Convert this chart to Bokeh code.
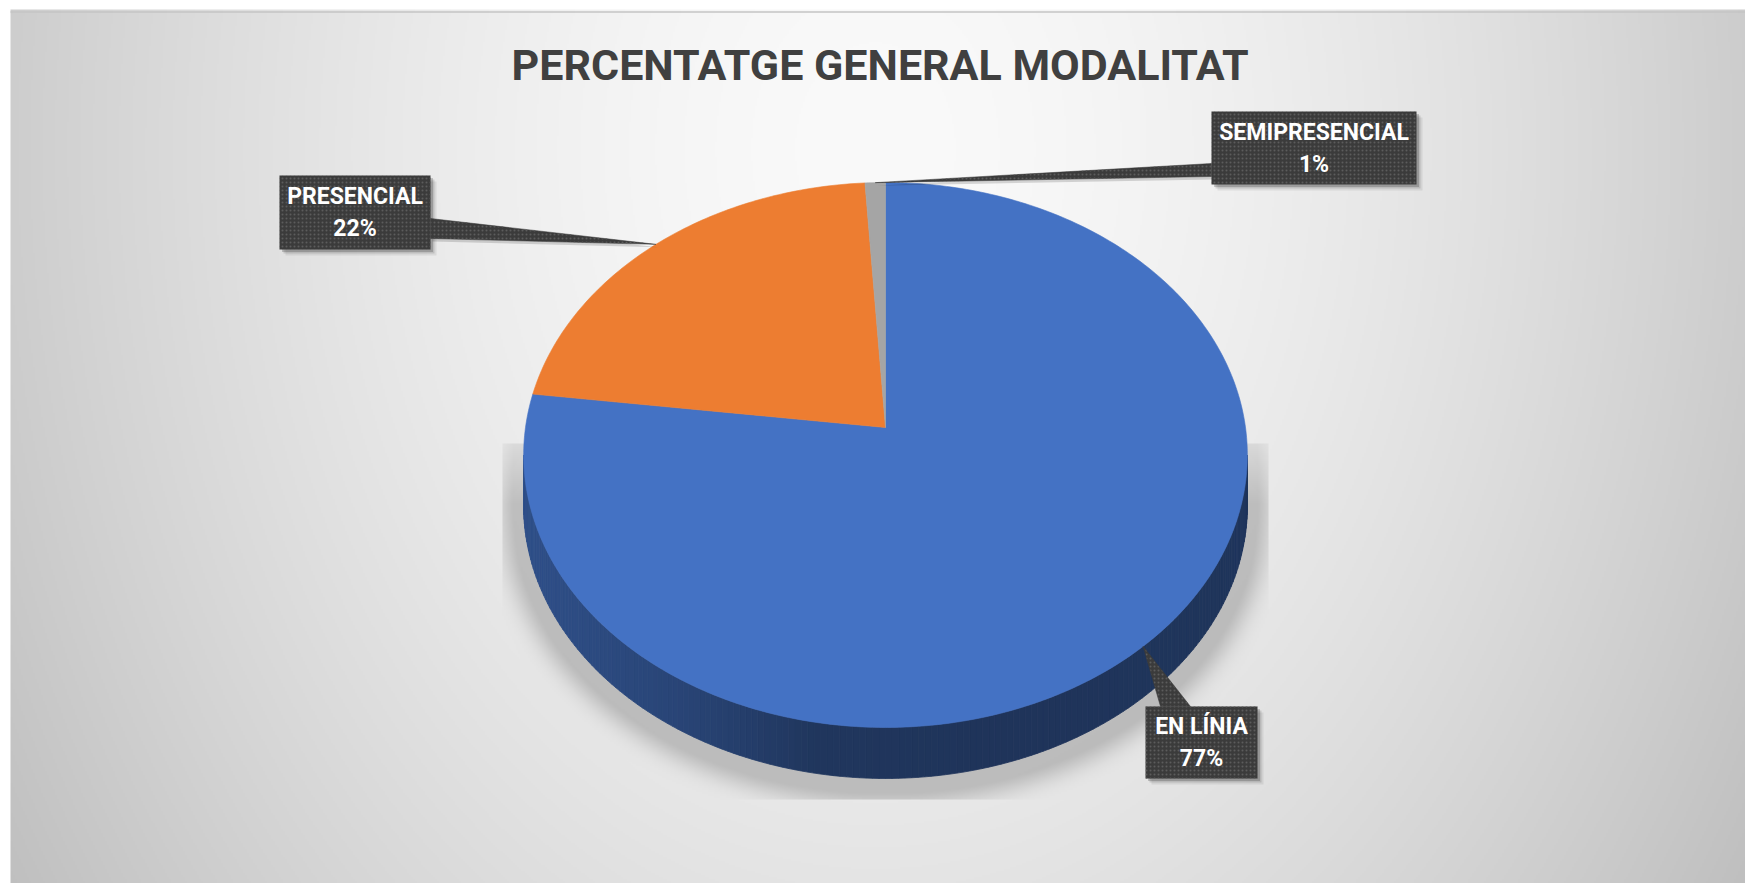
import numpy as np
from bokeh.plotting import figure
from bokeh.models import Range1d
from bokeh.embed import file_html
from bokeh.resources import INLINE
from bokeh.core.properties import value

# ---------------------------------------------------------------- data
categories = ["EN LÍNIA", "PRESENCIAL", "SEMIPRESENCIAL"]
percentages = [77, 22, 1]
slice_colors = ["#4472c4", "#ed7d31", "#a5a5a5"]
title_text = "PERCENTATGE GENERAL  MODALITAT"

# ---------------------------------------------------------------- layout (pixels, y downward)
W, H = 1745, 883
CX, CY = 885.0, 427.0      # point where the slices meet
RX, RZ = 360.0, 269.7      # radius of the disc, horizontal / depth
K = 0.1009                 # perspective strength
DEPTH = 51.0               # thickness of the disc

# label boxes: x0, x1, y0, y1 and the base of the callout pointer
box_x0 = [1145, 279, 1211]
box_x1 = [1257, 430, 1416]
box_y0 = [706, 175, 111]
box_y1 = [778, 249, 184]
ptr_base = [((1160, 706), (1190, 706)),
            ((430, 218), (430, 238)),
            ((1211, 163), (1211, 176))]

FONT = "Roboto"


def project(alpha, dy=0.0):
    """Angle clockwise from 12 o'clock -> screen pixel of the disc rim."""
    X = np.sin(alpha)
    Z = -np.cos(alpha)
    w = 1.0 - K * Z
    return CX + RX * X / w, CY + RZ * Z / w + dy


def Y(y):
    return H - np.asarray(y, dtype=float)


def shade(hex_color, f):
    h = hex_color.lstrip("#")
    r, g, b = (int(h[i:i + 2], 16) for i in (0, 2, 4))
    return "#%02x%02x%02x" % (int(r * f), int(g * f), int(b * f))


# ---------------------------------------------------------------- background image
S = 2
gw, gh = W // S + 1, H // S + 1
xs = (np.arange(gw) + 0.5) * S
ys = (np.arange(gh) + 0.5) * S
XX, YY = np.meshgrid(xs, ys)

u = (XX - 875.0) / 870.0
v = (YY - 150.0) / 733.0
grey = 250.0 - 45.0 * np.power(u ** 2 + 0.4 * v ** 2, 0.8)


def inside_disc(x, y, dy=0.0, grow=1.0):
    yy = y - CY - dy
    Z = yy / (RZ + K * yy)
    X = (x - CX) * (1.0 - K * Z) / RX
    return (X ** 2 + Z ** 2) <= grow ** 2


foot = np.zeros_like(grey, dtype=bool)
for dy in np.linspace(0, DEPTH + 8, 8):
    foot |= inside_disc(XX, YY, dy=dy, grow=1.05)
foot = foot.astype(float)


def blur1d(a, r, axis):
    a = np.moveaxis(a, axis, -1)
    p = np.pad(a, ((0, 0), (r + 1, r)), mode="edge")
    c = np.cumsum(p, axis=-1)
    out = (c[:, 2 * r + 1:] - c[:, :-2 * r - 1]) / (2 * r + 1)
    return np.moveaxis(out, -1, axis)


sh = foot
for _ in range(3):
    sh = blur1d(sh, 5, 0)
    sh = blur1d(sh, 5, 1)
clip = (XX >= 503) & (XX <= 1268) & (YY >= 445) & (YY <= 800)
# fade the shadow in towards its upper edge
fade = np.clip((YY - 445.0) / 60.0, 0, 1) * 0.6 + 0.4
grey = grey - 44.0 * np.clip(sh * 1.3, 0, 1) * clip * fade

panel = (XX >= 10) & (YY >= 11)
grey = np.where(panel, grey, 255.0)
grey = np.clip(grey, 0, 255).astype(np.uint8)

img = np.empty((gh, gw), dtype=np.uint32)
view = img.view(dtype=np.uint8).reshape((gh, gw, 4))
view[:, :, 0] = grey
view[:, :, 1] = grey
view[:, :, 2] = grey
view[:, :, 3] = 255
img = img[::-1]

# ---------------------------------------------------------------- figure
p = figure(width=W, height=H, output_backend="svg", toolbar_location=None,
           x_range=Range1d(0, W), y_range=Range1d(0, H), min_border=0)
p.axis.visible = False
p.grid.visible = False
p.outline_line_color = None
p.background_fill_color = "white"
p.border_fill_color = "white"

p.image_rgba(image=[img], x=0, y=0, dw=gw * S, dh=gh * S)
p.segment(x0=10, y0=Y(11.5), x1=W, y1=Y(11.5), line_color="#c4c4c4", line_width=1.5)

# ---------------------------------------------------------------- slices
total = float(sum(percentages))
bounds = np.cumsum([0] + percentages) / total * 2 * np.pi
mids = [(bounds[i] + bounds[i + 1]) / 2 for i in range(len(percentages))]


def slice_at(alpha):
    for i in range(len(percentages)):
        if bounds[i] <= alpha < bounds[i + 1]:
            return i
    return len(percentages) - 1


# visible side wall (front half of the disc)
a_right = np.arccos(-K)
a_left = 2 * np.pi - a_right
edges = np.linspace(a_right, a_left, 181)
side_xs, side_ys, side_cols = [], [], []
for a0, a1 in zip(edges[:-1], edges[1:]):
    x0, y0 = project(a0)
    x1, y1 = project(a1)
    side_xs.append([x0, x1, x1, x0])
    side_ys.append(list(Y([y0, y1, y1 + DEPTH, y0 + DEPTH])))
    uu = ((x0 + x1) / 2 - CX) / RX
    f = np.interp(uu, [-1.0, -0.55, -0.2, 0.3, 1.0], [0.70, 0.60, 0.48, 0.46, 0.47])
    side_cols.append(shade(slice_colors[slice_at((a0 + a1) / 2)], f))
p.patches(side_xs, side_ys, fill_color=side_cols, line_color=side_cols, line_width=0.8)

# top faces
top_xs, top_ys = [], []
for i, pct in enumerate(percentages):
    n = max(4, int(400 * pct / total) + 3)
    t = np.linspace(bounds[i], bounds[i + 1], n)
    px, py = project(t)
    top_xs.append([CX] + list(px))
    top_ys.append(list(Y([CY] + list(py))))
p.patches(top_xs, top_ys, fill_color=slice_colors, line_color=slice_colors, line_width=0.6)

# ---------------------------------------------------------------- title
p.text(x=[CX], y=Y([64]), text=[title_text], text_font=value(FONT),
       text_font_style="bold", text_font_size="43px", text_color="#404040",
       text_align="center", text_baseline="middle")

# ---------------------------------------------------------------- data labels
BOX = "#3b3b3b"
for i, name in enumerate(categories):
    x0, x1, y0, y1 = box_x0[i], box_x1[i], box_y0[i], box_y1[i]
    tip_x, tip_y = project(mids[i])
    (bx0, by0), (bx1, by1) = ptr_base[i]

    # soft drop shadow
    for off, al in ((6, 0.07), (4, 0.12), (2.5, 0.18)):
        p.quad(left=x0 + off, right=x1 + off, bottom=Y(y1 + off), top=Y(y0 + off),
               fill_color="black", fill_alpha=al, line_color=None)
    p.patch([bx0 + 2, bx1 + 2, tip_x + 2], list(Y([by0 + 3, by1 + 3, tip_y + 3])),
            fill_color="black", fill_alpha=0.15, line_color=None)

    p.patch([bx0, bx1, tip_x], list(Y([by0, by1, tip_y])),
            fill_color=BOX, line_color=BOX, line_width=0.5,
            hatch_pattern="dot", hatch_color="#5c5c5c", hatch_scale=4, hatch_weight=1)
    p.quad(left=x0, right=x1, bottom=Y(y1), top=Y(y0),
           fill_color=BOX, line_color=None,
           hatch_pattern="dot", hatch_color="#5c5c5c", hatch_scale=4, hatch_weight=1)

    cy = (y0 + y1) / 2
    p.text(x=[(x0 + x1) / 2], y=Y([cy - 16]), text=[name], text_font=value(FONT),
           text_font_style="bold", text_font_size="23px", text_color="white",
           text_align="center", text_baseline="middle")
    p.text(x=[(x0 + x1) / 2], y=Y([cy + 16]), text=["%d%%" % percentages[i]],
           text_font=value(FONT), text_font_style="bold", text_font_size="23px",
           text_color="white", text_align="center", text_baseline="middle")

open("out.html", "w").write(file_html(p, INLINE))
